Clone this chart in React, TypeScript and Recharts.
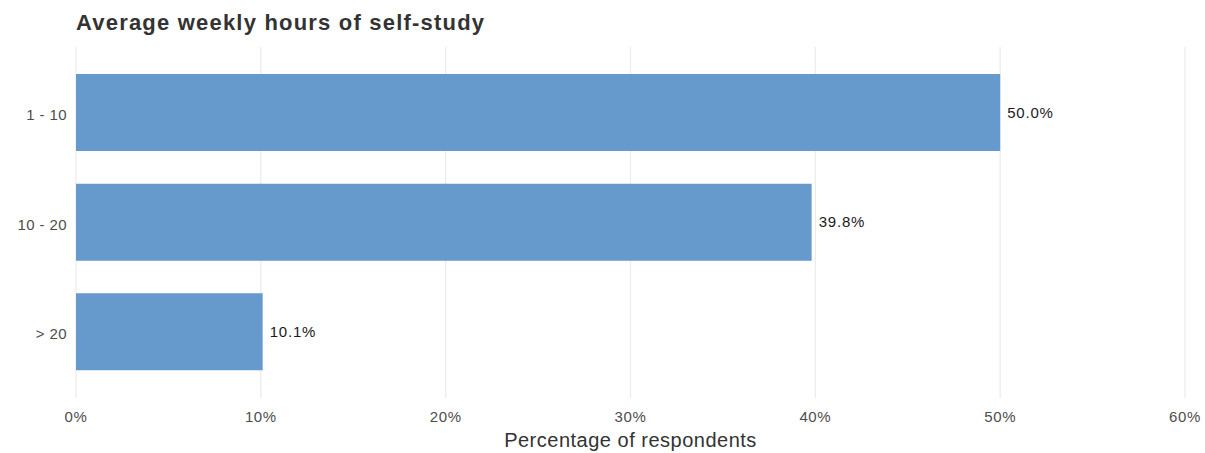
import React from 'react';
import { BarChart, Bar, XAxis, YAxis, CartesianGrid, LabelList } from 'recharts';

const categories = ['1 - 10', '10 - 20', '> 20'];
const shares = [50.0, 39.8, 10.1];
const xTicks = [0, 10, 20, 30, 40, 50, 60];

const data = categories.map((c, i) => ({ name: c, value: shares[i] }));

const FONT = '"Liberation Sans", Arial, sans-serif';

export default function App() {
  return (
    <div style={{ position: 'absolute', left: 0, top: 0, width: 1205, height: 453, background: '#fff', fontFamily: FONT }}>
      <div style={{ position: 'absolute', left: 76, top: 9, fontSize: 22, letterSpacing: 1.2, lineHeight: '28px', fontWeight: 'bold', color: '#333333' }}>
        Average weekly hours of self-study
      </div>
      <BarChart
        width={1205}
        height={453}
        data={data}
        layout="vertical"
        margin={{ top: 47, right: 20, bottom: 0, left: 0 }}
      >
        <CartesianGrid horizontal={false} stroke="#ebebeb" strokeWidth={1.2} />
        <XAxis
          type="number"
          domain={[0, 60]}
          ticks={xTicks}
          tickFormatter={(v) => `${v}%`}
          axisLine={false}
          tickLine={false}
          tickMargin={7}
          height={55}
          tick={{ fill: '#4d4d4d', fontSize: 15, letterSpacing: 0.6, fontFamily: FONT }}
          label={{ value: 'Percentage of respondents', position: 'insideBottom', offset: 6, fill: '#333333', fontSize: 20, letterSpacing: 0.5, fontFamily: FONT }}
        />
        <YAxis
          type="category"
          dataKey="name"
          width={76}
          axisLine={false}
          tickLine={false}
          tickMargin={3}
          padding={{ top: 11, bottom: 11 }}
          tick={{ fill: '#4d4d4d', fontSize: 15, letterSpacing: 0.4, fontFamily: FONT, dy: 2 }}
        />
        <Bar dataKey="value" fill="#6699cc" barSize={77} isAnimationActive={false}>
          <LabelList
            dataKey="value"
            position="right"
            offset={7}
            formatter={(v: number) => `${v.toFixed(1)}%`}
            style={{ fill: '#1a1a1a', fontSize: 15, letterSpacing: 0.8, fontFamily: FONT }}
          />
        </Bar>
      </BarChart>
    </div>
  );
}
